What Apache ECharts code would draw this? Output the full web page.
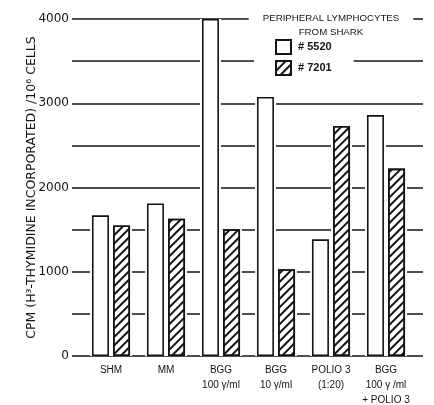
<!DOCTYPE html>
<html>
<head>
<meta charset="utf-8">
<script src="https://cdn.jsdelivr.net/npm/echarts@6/dist/echarts.min.js"></script>
<style>html,body{margin:0;padding:0;background:#fff}#c{width:434px;height:405px}</style>
</head>
<body>
<div id="c"></div>
<script>
var categories = ['SHM', 'MM', 'BGG\n100 γ/ml', 'BGG\n10 γ/ml', 'POLIO 3\n(1:20)', 'BGG\n100 γ /ml\n+ POLIO 3'];
var seriesNames = ['# 5520', '# 7201'];
var shark5520 = [1670, 1810, 4000, 3075, 1385, 2860];
var shark7201 = [1550, 1630, 1505, 1030, 2730, 2225];
var yTicks = [0, 1000, 2000, 3000, 4000];

var FONT = 'Liberation Sans';
var INK = '#141414';
var hatch = {
  symbol: 'rect', symbolSize: 1,
  dashArrayX: [1, 0], dashArrayY: [1.3, 3.6],
  rotation: -Math.PI / 4, color: INK
};

var chart = echarts.init(document.getElementById('c'), null, {renderer: 'canvas'});
var option = {
  backgroundColor: '#fff',
  animation: false,
  title: {
    text: 'PERIPHERAL LYMPHOCYTES\nFROM SHARK',
    left: 317, top: 10, textAlign: 'center',
    padding: [1, 14, 0, 14], z: 3,
    backgroundColor: '#fff',
    textStyle: {fontFamily: FONT, fontSize: 9.7, lineHeight: 14, fontWeight: 'normal', color: INK}
  },
  legend: {
    data: seriesNames, z: 8,
    orient: 'vertical', left: 254, top: 38,
    padding: [1, 22, 4, 21],
    itemWidth: 15, itemHeight: 14, itemGap: 5,
    backgroundColor: '#fff',
    icon: 'rect',
    textStyle: {fontFamily: FONT, fontSize: 11, fontWeight: 'bold', color: INK, padding: [0, 0, 0, 2]}
  },
  grid: [
    {left: 72, right: 11, top: 19, bottom: 49, outerBoundsMode: 'none', containLabel: false},
    {left: 83.5, right: 20.5, top: 19, bottom: 49, outerBoundsMode: 'none', containLabel: false}
  ],
  xAxis: [
    {gridIndex: 0, type: 'value', show: false, min: 0, max: 1},
    {gridIndex: 1, type: 'category', data: categories,
     axisLine: {show: false}, axisTick: {show: false},
     axisLabel: {interval: 0, margin: 7, fontFamily: FONT, fontSize: 10, lineHeight: 15, color: INK}},
    {gridIndex: 1, type: 'category', data: categories, show: false}
  ],
  yAxis: [
    {gridIndex: 0, type: 'value', min: 0, max: 4000, interval: 500,
     name: 'CPM (H³-THYMIDINE INCORPORATED) /10⁶ CELLS',
     nameLocation: 'middle', nameGap: 34, nameRotate: 90, nameMoveOverlap: false,
     nameTextStyle: {fontFamily: 'DejaVu Sans', fontSize: 12.5, color: INK},
     axisLine: {show: false}, axisTick: {show: false},
     splitLine: {show: true, lineStyle: {color: INK, width: 1.5}},
     axisLabel: {margin: 3, fontFamily: 'DejaVu Sans', fontSize: 12, color: INK,
       formatter: function (v) { return yTicks.indexOf(v) >= 0 ? String(v) : ''; }}},
    {gridIndex: 1, type: 'value', min: 0, max: 4000, show: false, splitLine: {show: false}}
  ],
  series: [
    {type: 'bar', name: 'halo1', xAxisIndex: 2, yAxisIndex: 1, data: shark5520, z: 1,
     barWidth: 21, barGap: '0%', silent: true,
     itemStyle: {color: '#fff', borderColor: '#fff', borderWidth: 5}},
    {type: 'bar', name: 'halo2', xAxisIndex: 2, yAxisIndex: 1, data: shark7201, z: 1,
     barWidth: 21, barGap: '0%', silent: true,
     itemStyle: {color: '#fff', borderColor: '#fff', borderWidth: 5}},
    {type: 'bar', name: seriesNames[0], xAxisIndex: 1, yAxisIndex: 1, data: shark5520, z: 3,
     barWidth: 17, barGap: '24%',
     itemStyle: {color: '#fff', borderColor: INK, borderWidth: 1.6}},
    {type: 'bar', name: seriesNames[1], xAxisIndex: 1, yAxisIndex: 1, data: shark7201, z: 3,
     barWidth: 17, barGap: '24%',
     itemStyle: {color: '#fff', borderColor: INK, borderWidth: 1.6, decal: hatch}}
  ]
};
chart.setOption(option);
</script>
</body>
</html>
